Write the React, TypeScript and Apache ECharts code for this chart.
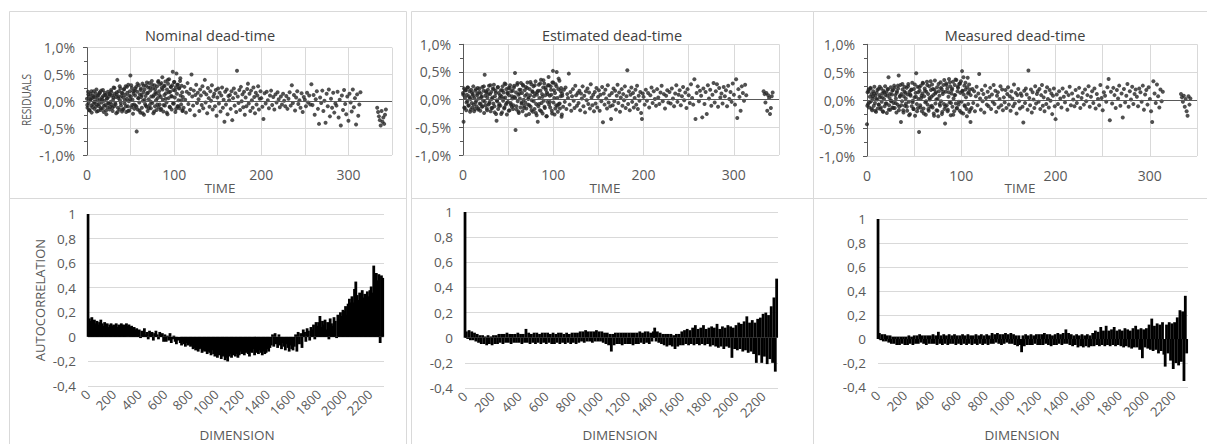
import React, { useEffect, useRef } from "react";
import * as echarts from "echarts";

// ---------- residual series (units of 0.01 %), sampled in five time segments ----------
// segment order: early, early (second sampling phase), middle, late, tail
const SEGMENT_STARTS = [0, 0.3, 110, 200, 333];
const SEGMENT_STEPS = [0.6, 1.2, 0.9, 1.25, 1];

const nominalEarly = [
  5,-12,18,-3,9,-17,2,14,-8,-21,6,11,-5,19,-14,0,8,-10,22,-6,3,-18,12,
  -9,15,4,-16,20,-2,7,-13,10,-20,1,16,-7,12,-24,5,-11,18,-4,9,-15,13,-1,
  21,-6,11,-18,3,26,-9,14,-3,8,-22,17,40,-12,6,19,-15,2,24,-8,10,-19,15,
  7,-14,23,-4,12,28,-20,5,16,-9,31,0,-17,19,48,9,-11,25,3,-23,14,-6,20,
  11,-8,27,-56,18,-15,6,30,-2,13,-21,24,8,-12,33,1,17,-25,22,-5,10,29,-10,
  15,-18,26,4,34,-7,20,-13,9,38,-3,24,-22,12,30,-9,17,2,-16,28,6,36,-11,
  19,-6,32,8,-14,25,45,3,-19,28,12,-8,37,15,-2,22,-24,33,6,41,-10,18,27,
  10,-15,30,55,21,-4,36,7,-20,26,52,14,-9,31,2,24,-13,38,11,-6,29,17,-17,
];
const nominalEarlyB = [
  -7,13,-16,4,19,-11,8,-2,15,-19,10,-5,17,-13,3,21,-8,12,-17,6,-3,14,-10,
  18,-12,7,25,-6,13,-20,9,28,-3,16,-15,22,2,-9,27,-18,11,4,30,-7,19,-14,
  24,-10,33,6,-17,21,12,-22,29,3,-8,35,16,-13,26,-1,31,9,-19,23,14,-6,38,
  12,-16,34,22,-7,29,5,-21,40,17,-11,27,9,-4,36,20,-14,31,-9,25,43,2,-18,
];
const nominalMiddle = [
  8,-12,27,3,-21,18,34,-5,14,-16,23,50,9,-8,20,-26,12,31,-3,16,
  4,-18,22,11,-7,28,-13,17,40,-2,13,-22,25,6,-10,19,1,30,-15,9,
  14,-9,21,-27,7,24,-4,16,-19,11,26,-12,3,-38,18,-6,22,-24,10,2,
  12,-14,19,-35,6,24,-8,15,-20,57,9,-3,21,-16,27,0,13,-11,18,-25,
  7,-9,23,33,-4,14,-18,20,2,-12,26,8,-22,16,-6,11,28,-15,5,19,
];
const nominalLate = [
  6,-10,-33,15,-4,18,2,-13,11,20,-7,8,-15,13,-2,17,4,-11,9,-6,14,1,-9,
  10,-14,5,17,-8,30,-3,12,-17,7,19,-5,2,-12,15,-20,8,3,-9,16,-2,11,-6,
  32,-7,12,-25,4,19,-14,-42,7,-3,20,-18,1,-40,14,-9,22,-28,5,-12,16,-21,-4,
  -8,18,-30,3,-45,11,-16,21,-5,-24,9,-36,14,-2,-19,22,-11,6,-43,13,-27,-6,17,
];
const nominalTail = [-12,-20,-28,-35,-45,-18,-38,-30,-42,-25,-15];

const estimatedEarly = [
  12,-40,20,-15,4,17,-19,9,-3,22,-11,6,15,-22,1,18,-6,-14,10,24,-9,3,-17,
  -5,19,-12,8,21,-18,2,14,-7,-20,11,5,-13,23,-2,16,-24,45,7,-10,13,-16,4,
  18,-9,25,-4,10,-21,14,1,-15,20,-7,27,-12,6,16,-26,-38,-3,22,-17,12,-8,3,
  -11,17,6,-23,24,-2,13,-16,29,4,-9,19,-27,11,-4,21,8,-19,26,-6,15,-13,2,
  16,-10,22,5,48,-55,13,-18,27,-3,9,-24,18,2,-14,30,-7,12,-21,25,0,-11,17,
  -5,23,-16,10,31,-9,4,-26,19,8,-13,28,-1,15,-22,24,6,-17,11,33,-8,-28,14,
  -40,-12,27,3,-19,16,36,-6,10,-25,22,-2,29,-15,8,18,-30,13,-4,26,41,-9,7,
  -14,24,9,-20,31,52,-5,17,-27,12,28,-10,50,3,-22,19,-8,34,-16,6,21,-31,11,
];
const estimatedEarlyB = [
  9,-14,17,-5,22,-10,3,-18,13,7,-21,16,-2,11,-16,20,-8,5,-12,24,-4,15,-19,
  10,-7,26,-15,4,19,-23,12,-1,23,-11,8,-26,17,2,-14,28,-6,13,-20,21,-9,6,
  -17,25,3,-12,30,-22,11,18,-5,27,-15,7,-28,21,1,-10,32,-19,14,-3,26,-24,9,
  16,-8,29,-21,5,35,-13,22,-30,10,26,-4,18,-25,31,3,-16,24,-11,38,-7,15,-27,
];
const estimatedMiddle = [
  7,-13,18,-4,22,-17,10,3,47,-9,14,-20,6,19,-2,-15,25,8,-11,12,
  -6,16,-19,11,2,24,-12,7,-23,15,-1,20,-8,13,-16,28,4,-10,9,-21,
  14,-7,21,-14,5,17,-20,9,-3,23,-41,11,-9,18,2,-16,26,-5,8,-12,
  -35,12,-10,20,-3,16,-18,7,27,-6,13,-22,4,19,-11,10,-1,24,-15,6,
  53,-8,15,-19,9,22,-4,12,-14,3,18,-9,25,-17,7,-2,14,-24,-35,11,
];
const estimatedLate = [
  5,-9,18,-2,12,-14,8,22,-6,15,1,-11,19,4,-8,13,25,-3,10,-16,7,17,-5,
  14,-7,20,2,-12,11,26,-4,9,17,-10,6,23,-1,13,-15,19,8,-6,28,3,-9,37,
  -35,12,24,-3,16,7,-32,20,-8,14,-26,26,2,18,-11,9,30,-5,15,28,-13,21,4,
  11,-7,23,6,17,-12,25,1,14,-4,29,9,-9,37,-33,19,5,-20,24,12,-2,27,8,
];
const estimatedTail = [15,10,-5,12,-20,8,3,-26,-15,6,13];

const measuredEarly = [
  -43,14,-7,19,-13,6,22,-2,11,-18,3,16,-10,24,-5,8,-21,13,1,-15,20,-8,9,
  5,-16,21,-3,12,-20,17,2,-11,25,-6,14,-23,8,19,41,-9,4,-17,23,-1,10,-13,
  18,-5,26,-14,9,3,-22,16,-8,21,44,-12,6,27,-39,11,-2,19,-18,7,24,-10,13,
  -6,22,-19,10,29,-3,15,-25,8,18,-11,31,-1,-16,20,5,-28,13,48,-7,24,-14,2,
  -57,17,-9,26,4,-20,12,30,-15,7,21,-4,-26,15,33,-8,11,-19,25,1,-12,18,6,
  28,-13,9,-24,19,35,-6,14,-18,23,2,-29,16,8,-10,32,-2,20,-21,11,27,-7,-16,
  -42,15,30,-9,21,-17,6,38,-4,25,-27,12,18,-12,33,3,-20,27,9,-6,36,-14,16,
  22,-8,29,-19,13,34,-3,52,17,-24,10,26,-11,31,5,-16,23,40,-7,14,-21,19,-39,
];
const measuredEarlyB = [
  -10,16,-4,21,-15,7,12,-19,2,18,-8,24,-13,5,-21,14,9,-6,20,-17,11,-2,17,
  -14,22,-5,13,26,-18,8,-9,29,-22,15,3,-12,25,-27,10,19,-4,-16,28,6,-20,14,
  23,-13,8,31,-24,17,-2,27,-16,4,34,-10,20,-28,12,1,-19,29,-7,22,-25,15,36,
  -11,27,-20,14,32,-5,21,-26,9,37,-15,24,-3,30,-22,16,41,-9,19,-29,12,28,-17,
];
const measuredMiddle = [
  9,-14,20,-5,16,-20,7,24,-9,12,47,3,-17,18,-2,11,-22,26,4,-8,
  15,-11,6,22,-16,10,-3,27,-7,17,-21,8,14,-13,2,25,-9,19,-18,5,
  -4,18,-14,11,23,-8,7,-19,16,3,-11,28,-6,13,-24,9,20,-2,-15,12,
  8,-12,-40,17,-5,21,10,-17,53,4,-9,19,-22,14,1,-14,25,-6,11,16,
  -3,20,-16,9,27,-10,5,-20,15,-7,23,2,-13,18,-1,12,-25,8,21,-11,
];
const measuredLate = [
  -34,10,-7,16,3,-13,21,6,-4,14,-17,9,24,-9,12,1,-11,18,-5,7,22,-14,4,
  13,-8,19,-2,9,25,-12,6,16,-5,21,-15,11,2,-9,27,4,-18,14,8,-3,23,38,
  -36,15,-6,22,9,-14,18,3,26,-10,12,-31,20,-4,8,29,-12,16,1,24,-7,11,19,
  6,-11,21,14,-3,26,-17,10,18,-8,23,2,-20,-39,34,12,-5,28,7,-13,19,-2,15,
];
const measuredTail = [11,5,-3,8,-12,2,-20,-28,7,-8,3];

// ---------- autocorrelation (one value every LAG_STEP lags, from lag 0) ----------
const LAG_STEP = 10;
const nominalAcf = [
  1,.15,.13,.16,.12,.14,.11,.13,.10,.12,.14,.11,.09,.12,.10,.11,.08,.10,.11,.09,
  .10,.09,.11,.08,.10,.09,.11,.10,.09,.10,.11,.09,.10,.08,.09,.07,.08,.06,.07,.05,
  .06,-.01,.05,.04,.07,.02,.04,-.02,.05,.03,.04,-.03,.03,.05,.02,-.02,.04,.01,.03,-.04,
  .02,-.04,.01,-.03,.03,-.05,-.02,.01,-.04,-.06,-.03,.00,-.05,-.07,-.04,-.06,-.08,-.05,-.07,-.06,
  -.08,-.07,-.10,-.09,-.11,-.08,-.12,-.10,-.09,-.13,-.11,-.12,-.10,-.14,-.12,-.13,-.15,-.11,-.14,-.16,
  -.13,-.17,-.15,-.14,-.18,-.16,-.15,-.19,-.17,-.20,-.16,-.14,-.17,-.15,-.13,-.16,-.14,-.17,-.15,-.12,
  -.14,-.12,-.15,-.13,-.11,-.14,-.16,-.12,-.13,-.10,-.15,-.13,-.12,-.14,-.11,-.13,-.15,-.12,-.14,-.13,
  -.10,-.12,-.09,-.07,.02,-.08,.03,-.06,-.09,.02,-.07,-.10,-.05,-.08,-.11,-.06,-.09,-.12,-.07,-.10,
  -.11,-.08,.02,-.12,.04,-.06,.03,-.09,.06,.04,-.04,.07,.05,-.03,.08,.06,.10,-.02,.12,.09,
  .12,.17,.08,.13,.10,.14,.06,.12,-.02,.15,.11,.09,.16,.13,-.01,.18,.14,.20,.17,.22,
  .21,.25,.18,.27,.31,.28,.33,.28,.39,.45,.34,.30,.36,.29,.38,.32,.35,.27,.37,.33,
  .38,.41,.36,.58,.49,.52,.46,.51,-.05,.50,.48,
];
const estimatedAcf = [
  1,.05,-.01,.06,-.02,.05,-.02,.04,-.03,.03,-.04,.02,-.05,.02,-.05,.01,-.06,.02,-.05,.01,
  -.06,.02,-.05,.02,-.05,.03,-.04,.03,-.05,.03,-.04,.04,-.04,.03,-.05,.03,-.04,.03,-.04,.04,
  -.04,.03,-.05,.03,-.04,.07,-.04,.04,-.05,.03,-.04,.04,-.05,.04,-.04,.03,-.05,.04,-.04,.04,
  -.05,.04,-.04,.03,-.05,.04,-.05,.03,-.04,.04,-.05,.04,-.04,.03,-.05,.04,-.04,.03,-.05,.04,
  -.04,.04,-.05,.04,-.04,.05,-.03,.05,-.04,.06,-.03,.05,-.03,.05,-.04,.05,-.03,.06,-.03,.05,
  -.03,.05,-.04,.04,-.05,.04,-.06,.03,-.11,.03,-.06,.04,-.05,.04,-.05,.04,-.06,.04,-.05,.04,
  -.05,.04,-.05,.04,-.06,.04,-.05,.04,-.05,.05,-.04,.04,-.05,.05,-.04,.05,-.05,.04,-.03,.05,
  .08,-.03,.05,-.04,.04,-.05,.03,-.06,.03,-.07,.03,-.06,.03,-.07,.02,-.09,.03,-.07,.03,-.06,
  .05,-.06,.06,-.05,.07,-.06,.06,-.05,.08,-.06,.10,-.05,.07,-.06,.08,-.05,.10,-.06,.07,-.05,
  .08,-.07,.09,-.06,.08,-.07,.11,-.08,.07,-.07,.09,-.09,.08,-.07,.10,-.08,.09,-.16,.08,-.09,
  .10,-.10,.12,-.09,.11,-.11,.13,-.10,.17,-.12,.12,-.11,.14,-.13,.12,-.20,.15,-.14,.16,-.20,
  .19,-.15,.20,-.21,.18,-.17,.25,-.20,.32,-.27,.47,
];
const measuredAcf = [
  1,.05,-.01,.04,-.02,.04,-.02,.03,-.03,.03,-.04,.02,-.04,.02,-.05,.02,-.05,.02,-.04,.02,
  -.05,.02,-.05,.03,-.04,.02,-.05,.03,-.04,.03,-.04,.04,-.03,.03,-.04,.03,-.05,.03,-.04,.03,
  -.04,.04,-.04,.03,-.05,.06,-.04,.03,-.05,.04,-.04,.03,-.05,.04,-.04,.03,-.04,.04,-.05,.03,
  -.04,.03,-.05,.04,-.04,.03,-.05,.04,-.04,.03,-.05,.03,-.04,.04,-.05,.03,-.04,.04,-.05,.03,
  -.04,.04,-.05,.03,-.04,.05,-.04,.04,-.03,.05,-.04,.04,-.05,.04,-.04,.05,-.03,.04,-.04,.05,
  -.04,.04,-.05,.03,-.06,.03,-.05,-.11,.03,-.06,.04,-.05,.03,-.05,.04,-.05,.03,-.04,.04,-.05,
  .04,-.05,.04,-.05,.05,-.04,.04,-.05,.04,-.06,.03,-.05,.04,-.05,.05,-.04,.04,-.05,.05,-.04,
  .08,-.04,.05,-.05,.04,-.06,.03,-.05,.04,-.07,.03,-.06,.04,-.07,.03,-.06,.04,-.07,.03,-.06,
  .05,-.06,.07,-.05,.06,-.06,.10,-.05,.07,-.06,.11,-.05,.07,-.06,.08,-.05,.10,-.06,.07,-.05,
  .08,-.06,.07,-.07,.09,-.06,.08,-.07,.07,-.08,.09,-.07,.11,-.07,.08,-.09,.09,-.16,.08,-.07,
  .09,-.08,.12,-.09,.17,-.10,.11,-.09,.13,-.12,.12,-.10,.14,-.13,-.23,.12,-.12,.14,-.18,.13,
  -.25,.14,-.20,.18,-.22,.24,-.19,.23,-.35,.36,-.12,
];

const TITLES = ["Nominal dead-time", "Estimated dead-time", "Measured dead-time"];
const RESIDUAL_SETS = [
  [nominalEarly, nominalEarlyB, nominalMiddle, nominalLate, nominalTail],
  [estimatedEarly, estimatedEarlyB, estimatedMiddle, estimatedLate, estimatedTail],
  [measuredEarly, measuredEarlyB, measuredMiddle, measuredLate, measuredTail],
];
const ACF_SETS = [nominalAcf, estimatedAcf, measuredAcf];

// ---------- layout ----------
const FONT = '"Open Sans", "Noto Sans", sans-serif';
const TEXT = "#595959";
const GRID = "#d9d9d9";
const TOP_GRIDS = [
  { left: 87, top: 47.7, width: 305, height: 107.3 },
  { left: 463, top: 44.3, width: 316, height: 110.7 },
  { left: 867, top: 44.3, width: 330, height: 111.7 },
];
const BOTTOM_GRIDS = [
  { left: 88, top: 214, width: 296, height: 172 },
  { left: 465, top: 212, width: 313, height: 176 },
  { left: 878, top: 219, width: 310, height: 168 },
];
const TITLE_X = [210, 612, 1015];
const TIME_X = [220, 605, 1020];
const DIM_X = [237, 620, 1022];
const BOXES = [
  [9, 11, 397, 187], [411, 11, 402, 187], [813, 11, 400, 187],
  [9, 198, 397, 260], [411, 198, 402, 260], [813, 198, 400, 260],
];

function toPoints(segments: number[][]) {
  const pts: number[][] = [];
  segments.forEach((vals, s) =>
    vals.forEach((v, i) => pts.push([SEGMENT_STARTS[s] + i * SEGMENT_STEPS[s], v / 100]))
  );
  return pts;
}

function pctLabel(v: number) {
  const r = Math.round(v * 10) / 10;
  return (Math.abs(r) < 1e-9 ? 0 : r).toFixed(1).replace(".", ",") + "%";
}
function acfLabel(v: number) {
  const r = Math.round(v * 10) / 10;
  return (Math.abs(r) < 1e-9 ? "0" : String(r)).replace(".", ",");
}

function text(t: string, x: number, y: number, size: number, color: string, rotation = 0, scaleX = 1) {
  return {
    type: "text",
    x,
    y,
    rotation,
    scaleX,
    silent: true,
    style: {
      text: t,
      fill: color,
      font: `${size}px ${FONT}`,
      align: "center",
      verticalAlign: "middle",
      textAlign: "center",
      textVerticalAlign: "middle",
    },
  };
}

export default function App() {
  const ref = useRef<HTMLDivElement>(null);
  useEffect(() => {
    document.body.style.margin = "0";
    if (!ref.current) return;
    const chart = echarts.init(ref.current, undefined, { renderer: "svg" });

    const grids: any[] = [];
    const xAxes: any[] = [];
    const yAxes: any[] = [];
    const series: any[] = [];

    TOP_GRIDS.forEach((g, i) => {
      grids.push({ ...g });
      xAxes.push({
        type: "value",
        gridIndex: i,
        min: 0,
        max: 350,
        interval: 50,
        position: "bottom",
        axisLine: { show: false, onZero: false },
        axisTick: { show: false },
        axisLabel: {
          color: TEXT,
          fontSize: 14,
          fontFamily: FONT,
          margin: 12,
          formatter: (v: number) => (v % 100 === 0 && v < 350 ? String(v) : ""),
        },
        splitLine: { show: true, lineStyle: { color: GRID, width: 1 } },
      });
      yAxes.push({
        type: "value",
        gridIndex: i,
        min: -1,
        max: 1,
        interval: 0.5,
        axisLine: { show: true, onZero: false, lineStyle: { color: "#595959", width: 1 } },
        axisTick: { show: true, length: 4, lineStyle: { color: "#595959" } },
        minorTick: { show: true, splitNumber: 2, length: 3, lineStyle: { color: "#595959" } },
        axisLabel: { color: TEXT, fontSize: 14, fontFamily: FONT, margin: 12, formatter: pctLabel },
        splitLine: { show: true, lineStyle: { color: GRID, width: 1 } },
      });
      series.push({
        type: "scatter",
        xAxisIndex: i,
        yAxisIndex: i,
        data: toPoints(RESIDUAL_SETS[i]),
        symbol: "circle",
        symbolSize: 4,
        itemStyle: { color: "#242424" },
        markLine: {
          silent: true,
          symbol: "none",
          label: { show: false },
          lineStyle: { color: "#595959", width: 1, type: "solid" },
          data: [{ yAxis: 0 }],
        },
      });
    });

    BOTTOM_GRIDS.forEach((g, i) => {
      const idx = 3 + i;
      grids.push({ ...g });
      xAxes.push({
        type: "value",
        gridIndex: idx,
        min: 0,
        max: 2310,
        interval: 200,
        position: "bottom",
        axisLine: { show: false, onZero: false },
        axisTick: { show: false },
        splitLine: { show: false },
        axisLabel: {
          color: TEXT,
          fontSize: 13,
          fontFamily: FONT,
          rotate: 45,
          margin: 6,
          showMaxLabel: false,
          formatter: (v: number) => String(v),
        },
      });
      yAxes.push({
        type: "value",
        gridIndex: idx,
        min: -0.4,
        max: 1,
        interval: 0.2,
        axisLine: { show: false },
        axisTick: { show: false },
        axisLabel: { color: TEXT, fontSize: 13.5, fontFamily: FONT, margin: 12, formatter: acfLabel },
        splitLine: { show: true, lineStyle: { color: GRID, width: 1 } },
      });
      series.push({
        type: "bar",
        xAxisIndex: idx,
        yAxisIndex: idx,
        data: ACF_SETS[i].map((r, k) => [k * LAG_STEP, r]),
        barWidth: 2.8,
        barMinWidth: 2.8,
        itemStyle: { color: "#000000" },
      });
    });

    const graphics: any[] = [];
    BOXES.forEach(([x, y, w, h]) =>
      graphics.push({
        type: "rect",
        silent: true,
        z: -10,
        shape: { x: x + 0.5, y: y + 0.5, width: w, height: h },
        style: { fill: "none", stroke: GRID, lineWidth: 1 },
      })
    );
    TITLES.forEach((t, i) => graphics.push(text(t, TITLE_X[i], 35, 14.5, "#404040")));
    TIME_X.forEach((x) => graphics.push(text("TIME", x, 188, 13.5, TEXT)));
    DIM_X.forEach((x) => graphics.push(text("DIMENSION", x, 435, 13.5, TEXT)));
    graphics.push(text("RESIDUALS", 25, 100, 13.5, TEXT, Math.PI / 2, 0.75));
    graphics.push(text("AUTOCORRELATION", 40, 300, 13, TEXT, Math.PI / 2));

    chart.setOption({
      animation: false,
      backgroundColor: "#ffffff",
      grid: grids,
      xAxis: xAxes,
      yAxis: yAxes,
      series,
      graphic: graphics,
    });
    return () => chart.dispose();
  }, []);
  return <div ref={ref} style={{ width: 1207, height: 444 }} />;
}
